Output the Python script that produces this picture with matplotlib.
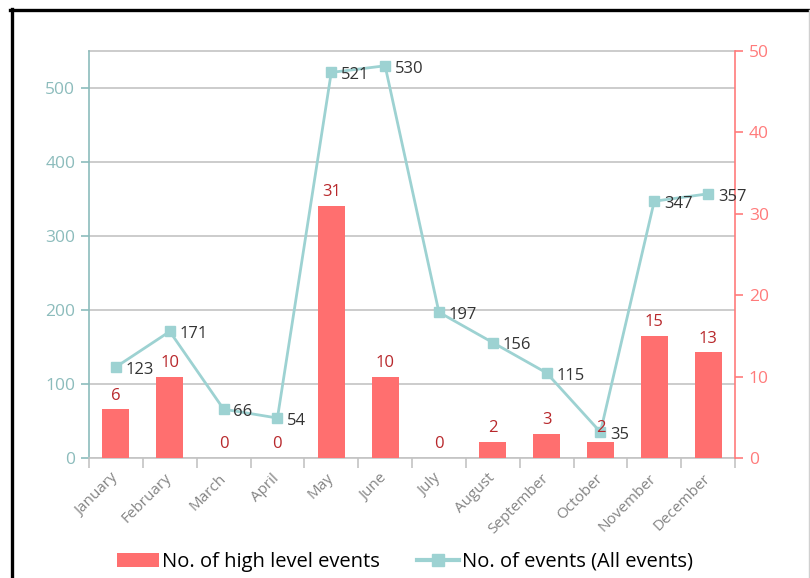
import matplotlib
matplotlib.use("Agg")
import matplotlib.pyplot as plt
from matplotlib.lines import Line2D
from matplotlib.patches import Patch
import numpy as np

plt.rcParams['font.family'] = ['Open Sans', 'DejaVu Sans']

months = ["January", "February", "March", "April", "May", "June", "July",
          "August", "September", "October", "November", "December"]
high_level = [6, 10, 0, 0, 31, 10, 0, 2, 3, 2, 15, 13]
all_events = [123, 171, 66, 54, 521, 530, 197, 156, 115, 35, 347, 357]

BAR_COL = '#ff6f6f'
BAR_TXT = '#b8282c'
LINE_COL = '#9dd2d2'
LEFT_COL = '#8cbcbc'
RIGHT_COL = '#ff7b7b'
GRID_COL = '#c4c4c4'

x = np.arange(len(months))

fig = plt.figure(figsize=(8.1, 5.78), dpi=100)
ax = fig.add_axes([0.1099, 0.2076, 0.7975, 0.7042])

# base axis: left scale + grid only
ax.set_xlim(-0.5, 11.5)
ax.set_ylim(0, 550)
ax.set_yticks(range(0, 501, 100))
ax.yaxis.grid(True, color=GRID_COL, linewidth=1.2)
ax.axhline(550, color=GRID_COL, linewidth=1.2, clip_on=False)
ax.tick_params(axis='y', colors=LEFT_COL, labelsize=12.5, length=6, width=1.2, pad=4)
ax.spines['left'].set_color(LEFT_COL)
ax.spines['left'].set_linewidth(1.2)
ax.spines['top'].set_visible(False)
ax.spines['right'].set_visible(False)
ax.spines['bottom'].set_color(GRID_COL)
ax.spines['bottom'].set_linewidth(1.2)

ax.set_xticks(np.arange(-0.5, 12, 1))
ax.set_xticklabels([])
ax.tick_params(axis='x', which='major', colors=GRID_COL, length=7, width=1.2)
ax.set_xticks(x, minor=True)
ax.set_xticklabels(months, minor=True, rotation=45, ha='right', va='center',
                   rotation_mode='anchor', color='#858585', fontsize=11)
ax.tick_params(axis='x', which='minor', length=0, pad=13)

# bars on the right scale
axb = ax.twinx()
axb.set_xlim(-0.5, 11.5)
axb.set_ylim(0, 50)
axb.set_yticks(range(0, 51, 10))
axb.bar(x, high_level, width=0.5, color=BAR_COL, zorder=2)
axb.tick_params(axis='y', colors=RIGHT_COL, labelsize=12.5, length=6, width=1.2, pad=4)
axb.spines['right'].set_color(RIGHT_COL)
axb.spines['right'].set_linewidth(1.2)
for sp in ['left', 'top', 'bottom']:
    axb.spines[sp].set_visible(False)

# line on top, sharing the left scale
axl = ax.twinx()
axl.set_ylim(0, 550)
axl.set_yticks([])
for sp in axl.spines.values():
    sp.set_visible(False)
axl.plot(x, all_events, color=LINE_COL, linewidth=2, marker='s',
         markersize=6.5, zorder=3)
for xi, v in zip(x, all_events):
    axl.annotate(str(v), (xi, v), xytext=(7, -2), textcoords='offset points',
                 ha='left', va='center', fontsize=12, color='#333333', zorder=4)

# bar value labels, scaled into the line axis so they sit on top
for xi, v in zip(x, high_level):
    axl.annotate(str(v), (xi, v * 550 / 50), xytext=(0, 4),
                 textcoords='offset points', ha='center', va='bottom',
                 fontsize=12, color=BAR_TXT, zorder=5)

handles = [Patch(facecolor=BAR_COL, edgecolor='none'),
           Line2D([0], [0], color=LINE_COL, linewidth=3, marker='s', markersize=9)]
fig.legend(handles, ["No. of high level events", "No. of events (All events)"],
           loc='center', bbox_to_anchor=(0.5, 0.028), ncol=2, frameon=False,
           fontsize=14.5, handlelength=2.1, handleheight=0.7, columnspacing=1.8,
           handletextpad=0.15)

# outer frame
fig.add_artist(Line2D([10 / 810, 809 / 810], [568 / 578, 568 / 578],
                      color='black', linewidth=2.4, transform=fig.transFigure))
fig.add_artist(Line2D([11.5 / 810, 11.5 / 810], [0, 569 / 578],
                      color='black', linewidth=2.4, transform=fig.transFigure))
fig.add_artist(Line2D([808.5 / 810, 808.5 / 810], [0, 568 / 578],
                      color='#d0d0d0', linewidth=1, transform=fig.transFigure))

fig.savefig("out.png", dpi=100)
